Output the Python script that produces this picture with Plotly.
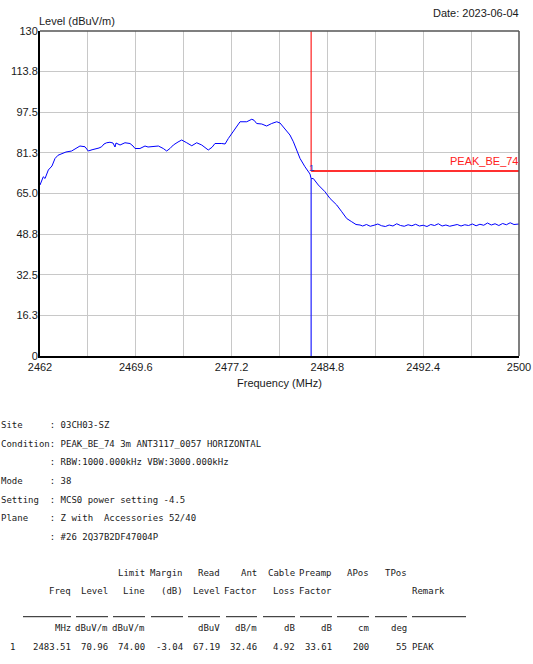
import plotly.graph_objects as go

# ---------------- data ----------------
freq = [2462.00, 2462.08, 2462.26, 2462.40, 2462.66, 2462.95, 2463.19, 2463.43, 2463.72, 2464.06,
        2464.51, 2464.86, 2465.17, 2465.57, 2465.83, 2466.13, 2466.36, 2466.68, 2466.89, 2467.08,
        2467.29, 2467.55, 2467.79, 2467.95, 2468.03, 2468.35, 2468.74, 2469.14, 2469.38, 2469.54,
        2469.93, 2470.33, 2470.57, 2470.86, 2471.12, 2471.39, 2471.78, 2472.05, 2472.31, 2472.58,
        2472.95, 2473.24, 2473.64, 2474.04, 2474.43, 2474.83, 2475.09, 2475.35, 2475.65, 2475.88,
        2476.42, 2476.68, 2476.94, 2477.34, 2477.63, 2477.87, 2478.40, 2478.66, 2478.80, 2478.98,
        2479.19, 2479.59, 2479.98, 2480.38, 2480.78, 2481.04, 2481.28, 2481.52, 2481.83, 2482.10,
        2482.37, 2482.63, 2483.02, 2483.42, 2483.51, 2483.68, 2484.08, 2484.61, 2485.01, 2485.54,
        2485.94, 2486.33, 2486.73, 2487.07, 2487.39,
        2487.6, 2487.9, 2488.2, 2488.5, 2488.8, 2489.1, 2489.4, 2489.7, 2490.0, 2490.3,
        2490.6, 2490.9, 2491.2, 2491.5, 2491.8, 2492.1, 2492.4, 2492.7, 2493.0, 2493.3,
        2493.6, 2493.9, 2494.2, 2494.5, 2494.8, 2495.1, 2495.4, 2495.7, 2496.0, 2496.3,
        2496.6, 2496.9, 2497.2, 2497.5, 2497.8, 2498.1, 2498.4, 2498.7, 2499.0, 2499.3,
        2499.6, 2500.0]
level = [68.4, 69.5, 71.7, 71.0, 74.4, 76.0, 79.0, 80.3, 81.0, 81.6,
         82.0, 83.0, 84.0, 83.7, 82.0, 82.5, 82.7, 83.2, 83.7, 84.8,
         85.3, 85.5, 85.2, 83.6, 85.2, 84.4, 85.3, 85.0, 84.0, 83.0,
         83.0, 84.0, 83.6, 83.7, 84.0, 84.0, 83.0, 82.0, 83.0, 84.4,
         85.6, 86.4, 85.3, 84.1, 85.3, 84.4, 83.4, 82.4, 83.5, 85.0,
         85.0, 84.8, 87.0, 89.7, 92.0, 93.7, 93.7, 94.2, 94.7, 94.3,
         93.0, 92.8, 92.0, 93.0, 93.7, 93.2, 91.8, 90.4, 88.4, 85.7,
         82.4, 79.0, 75.7, 72.8, 70.96, 71.0, 68.4, 65.7, 63.0, 60.4,
         57.7, 55.0, 53.7, 52.6, 52.4,
         52.0, 52.6, 51.9, 52.3, 52.8, 52.1, 51.8, 52.4, 52.0, 52.9,
         52.2, 51.9, 52.5, 52.1, 52.7, 52.0, 52.3, 51.8, 52.6, 52.2,
         52.9, 52.0, 52.4, 51.9, 52.3, 52.6, 52.0, 52.5, 52.2, 52.8,
         52.1, 52.7, 52.3, 53.2, 52.4, 52.9, 52.2, 53.0, 52.5, 53.3,
         52.6, 52.8]

marker_freq = 2483.51
marker_level = 70.96
limit_level = 74.00
limit_name = "PEAK_BE_74"

x_gridvals = [2462, 2465.8, 2469.6, 2473.4, 2477.2, 2481, 2484.8, 2488.6, 2492.4, 2496.2, 2500]
x_ticktext = ["2462", "", "2469.6", "", "2477.2", "", "2484.8", "", "2492.4", "", "2500"]
y_tickvals = [0, 16.25, 32.5, 48.75, 65, 81.25, 97.5, 113.75, 130]
y_ticktext = ["0", "16.3", "32.5", "48.8", "65.0", "81.3", "97.5", "113.8", "130"]

info_labels = ["Site", "Condition", "", "Mode", "Setting", "Plane", ""]
info_values = [": 03CH03-SZ", ": PEAK_BE_74 3m ANT3117_0057 HORIZONTAL",
               ": RBW:1000.000kHz VBW:3000.000kHz", ": 38",
               ": MCS0 power setting -4.5", ": Z with  Accessories 52/40",
               ": #26 2Q37B2DF47004P"]

hdr1 = ["", "", "Limit", "Margin", "Read", "Ant", "Cable", "Preamp", "APos", "TPos"]
hdr2 = ["Freq", "Level", "Line", "(dB)", "Level", "Factor", "Loss", "Factor", "", ""]
units = ["MHz", "dBuV/m", "dBuV/m", "", "dBuV", "dB/m", "dB", "dB", "cm", "deg"]
row1 = ["2483.51", "70.96", "74.00", "-3.04", "67.19", "32.46", "4.92", "33.61", "200", "55"]
row_no = "1"
remark_hdr = "Remark"
row1_remark = "PEAK"

# ---------------- layout helpers ----------------
W, H = 533, 664
L, R, T, B = 40, 519, 31, 356


def px(x, y):
    return (x - L) / (R - L), (B - y) / (B - T)


SANS = "Liberation Sans, Arial, sans-serif"
MONO = "DejaVu Sans Mono, Liberation Mono, monospace"
MONO_SIZE = 9

fig = go.Figure()
fig.add_trace(go.Scatter(x=freq, y=level, mode="lines",
                         line=dict(color="#0000ff", width=1), hoverinfo="skip",
                         showlegend=False))

shapes = []
shapes.append(dict(type="line", xref="x", yref="y", x0=marker_freq, x1=marker_freq,
                   y0=limit_level, y1=130, line=dict(color="#ff2020", width=1.2)))
shapes.append(dict(type="line", xref="x", yref="y", x0=marker_freq, x1=2500,
                   y0=limit_level, y1=limit_level, line=dict(color="#ff3030", width=2)))
shapes.append(dict(type="line", xref="x", yref="y", x0=marker_freq, x1=marker_freq,
                   y0=0, y1=marker_level, line=dict(color="#2020ff", width=1.2)))
shapes.append(dict(type="line", xref="paper", yref="paper", x0=0, x1=1, y0=1, y1=1,
                   line=dict(color="#555555", width=1.5)))
shapes.append(dict(type="line", xref="paper", yref="paper", x0=1, x1=1, y0=0, y1=1,
                   line=dict(color="#555555", width=1.5)))

annotations = []


def text(x, y, s, xanchor="left", font=MONO, size=MONO_SIZE, color="#1a1a1a"):
    fx, fy = px(x, y)
    annotations.append(dict(xref="paper", yref="paper", x=fx, y=fy, text=s,
                            showarrow=False, xanchor=xanchor, yanchor="middle",
                            borderpad=0,
                            font=dict(family=font, size=size, color=color)))


text(38, 21, "Level (dBuV/m)", font=SANS, size=11)
text(520, 13.5, "Date: 2023-06-04", xanchor="right", font=SANS, size=11)
text(279.5, 383, "Frequency (MHz)", xanchor="center", font=SANS, size=11)
text(520, 161, limit_name, xanchor="right", font=SANS, size=11, color="#ff2020")
text(311.5, 167, row_no, xanchor="center", font=SANS, size=9.5, color="#3030c0")

info_y = [425, 443.7, 462, 481, 499.5, 518, 537]
for lab, val, yy in zip(info_labels, info_values, info_y):
    text(0, yy, f"{lab:<9}{val}".replace(" ", "&nbsp;"))

col_right = [71, 108, 145, 182.7, 220, 257, 294.7, 332, 369, 406.7]
for row, yy in ((hdr1, 572.7), (hdr2, 591), (units, 628.3), (row1, 646.7)):
    for s, xr in zip(row, col_right):
        if s:
            text(xr + 1, yy, s, xanchor="right")
text(411, 591, remark_hdr)
text(411, 646.7, row1_remark)
text(9, 646.7, row_no)

underlines = [(23, 71), (76, 108), (113, 145), (151, 183), (188, 220), (226, 257),
              (263, 295), (300, 332), (337, 369), (375, 407), (412, 466)]
for a, b in underlines:
    x0, y0 = px(a, 616.7)
    x1, _ = px(b, 616.7)
    shapes.append(dict(type="line", xref="paper", yref="paper", x0=x0, x1=x1, y0=y0, y1=y0,
                       line=dict(color="#1a1a1a", width=1)))

fig.update_layout(
    width=W, height=H,
    margin=dict(l=L, r=W - R, t=T, b=H - B, pad=0, autoexpand=False),
    paper_bgcolor="white", plot_bgcolor="white",
    shapes=shapes, annotations=annotations,
    showlegend=False,
    xaxis=dict(range=[2462, 2500], tickvals=x_gridvals, ticktext=x_ticktext,
               showgrid=True, gridcolor="#c8c8c8", gridwidth=1, zeroline=False,
               showline=True, linecolor="black", linewidth=2, ticks="",
               automargin=False,
               tickfont=dict(family=SANS, size=11, color="#1a1a1a")),
    yaxis=dict(range=[0, 130], tickvals=y_tickvals, ticktext=y_ticktext,
               showgrid=True, gridcolor="#c8c8c8", gridwidth=1, zeroline=False,
               showline=True, linecolor="black", linewidth=2, ticks="",
               automargin=False, ticklabelstandoff=-2,
               tickfont=dict(family=SANS, size=11, color="#1a1a1a")),
)

fig.write_html("out.html", config={"displayModeBar": False},
               post_script="document.body.style.margin='0';document.body.style.overflow='hidden';")
